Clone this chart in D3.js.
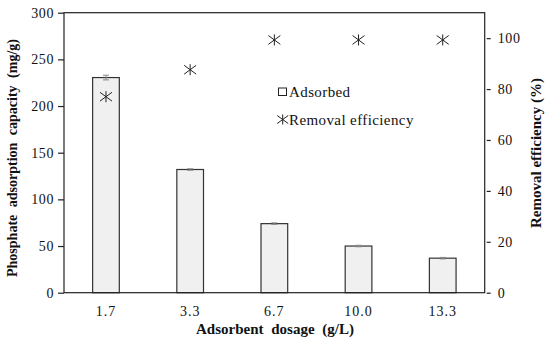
<!DOCTYPE html>
<html>
<head>
<meta charset="utf-8">
<script src="https://cdn.jsdelivr.net/npm/d3@7"></script>
<style>
  body { margin: 0; background: #fff; }
  text { font-family: "Liberation Serif", "Times New Roman", serif; fill: #111; }
</style>
</head>
<body>
<div id="chart"></div>
<script>
// data
var dosages = ["1.7", "3.3", "6.7", "10.0", "13.3"];
var adsorbed = [230.5, 132, 74, 50, 37];
var adsorbedErr = [2.5, 0.8, 0.8, 0.8, 0.8];
var efficiency = [77, 87.6, 99.3, 99.3, 99.3];
var leftTicks = [0, 50, 100, 150, 200, 250, 300];
var rightTicks = [0, 20, 40, 60, 80, 100];

var W = 550, H = 344;
var margin = {top: 12.7, right: 65.3, bottom: 51.3, left: 64};
var width = W - margin.left - margin.right;
var height = H - margin.top - margin.bottom;

var svg = d3.select("#chart").append("svg")
    .attr("width", W).attr("height", H);
var g = svg.append("g")
    .attr("transform", "translate(" + margin.left + "," + margin.top + ")");

var x = d3.scaleBand().domain(dosages).range([0, width]).paddingInner(0.683).paddingOuter(0.34);
var yL = d3.scaleLinear().domain([0, 300]).range([height, 0]);
var yR = d3.scaleLinear().domain([0, 110]).range([height, 0]);

// bars
g.selectAll("rect.bar")
  .data(adsorbed)
  .enter().append("rect")
    .attr("class", "bar")
    .attr("x", function(d, i) { return x(dosages[i]); })
    .attr("y", function(d) { return yL(d); })
    .attr("width", x.bandwidth())
    .attr("height", function(d) { return height - yL(d); })
    .attr("fill", "#f0f0f0")
    .attr("stroke", "#333")
    .attr("stroke-width", 1.2);

// error bars
g.selectAll("g.err")
  .data(adsorbed)
  .enter().append("g")
    .attr("class", "err")
    .each(function(d, i) {
      var cx = x(dosages[i]) + x.bandwidth() / 2;
      var e = adsorbedErr[i];
      var sel = d3.select(this);
      sel.append("line")
        .attr("x1", cx).attr("x2", cx)
        .attr("y1", yL(d - e)).attr("y2", yL(d + e))
        .attr("stroke", "#888").attr("stroke-width", 1);
      [d - e, d + e].forEach(function(v) {
        sel.append("line")
          .attr("x1", cx - 3).attr("x2", cx + 3)
          .attr("y1", yL(v)).attr("y2", yL(v))
          .attr("stroke", "#888").attr("stroke-width", 1);
      });
    });

// asterisk marker: vertical stroke plus a wide X
function star(sel, cx, cy, hw, hh) {
  sel.append("line")
    .attr("x1", cx).attr("y1", cy - hh)
    .attr("x2", cx).attr("y2", cy + hh)
    .attr("stroke", "#222").attr("stroke-width", 1);
  [[-1, -1], [-1, 1]].forEach(function(s) {
    sel.append("line")
      .attr("x1", cx + s[0] * hw).attr("y1", cy + s[1] * hh * 0.8)
      .attr("x2", cx - s[0] * hw).attr("y2", cy - s[1] * hh * 0.8)
      .attr("stroke", "#222").attr("stroke-width", 1);
  });
}

efficiency.forEach(function(v, i) {
  star(g, x(dosages[i]) + x.bandwidth() / 2, yR(v), 6, 5.5);
});

// frame
g.append("rect")
  .attr("x", 0).attr("y", 0)
  .attr("width", width).attr("height", height)
  .attr("fill", "none")
  .attr("stroke", "#222").attr("stroke-width", 1.2);

// left axis
var axL = g.append("g")
  .call(d3.axisLeft(yL).tickValues(leftTicks).tickSize(6).tickPadding(4));
axL.select(".domain").remove();
axL.selectAll("line").attr("stroke", "#222").attr("stroke-width", 1.2);
axL.selectAll("text").style("font-size", "14px").style("letter-spacing", "0.6px").attr("fill", "#111");

// right axis (ticks detached a little from the frame)
var axR = g.append("g")
  .attr("transform", "translate(" + (width + 2) + ",0)")
  .call(d3.axisRight(yR).tickValues(rightTicks).tickSize(4).tickPadding(7));
axR.select(".domain").remove();
axR.selectAll("line").attr("stroke", "#222").attr("stroke-width", 1.2);
axR.selectAll("text").style("font-size", "14px").style("letter-spacing", "0.6px").attr("fill", "#111");

// bottom axis
var axB = g.append("g")
  .attr("transform", "translate(0," + height + ")")
  .call(d3.axisBottom(x).tickSize(0).tickPadding(13));
axB.select(".domain").remove();
axB.selectAll("text").style("font-size", "14px").style("letter-spacing", "1px").attr("fill", "#111");

// axis titles
svg.append("text")
  .attr("transform", "translate(17,158) rotate(-90)")
  .attr("text-anchor", "middle")
  .style("font-size", "14px").style("font-weight", "bold")
  .style("word-spacing", "4px")
  .text("Phosphate adsorption capacity (mg/g)");

svg.append("text")
  .attr("transform", "translate(541,153) rotate(-90)")
  .attr("text-anchor", "middle")
  .style("font-size", "15px").style("font-weight", "bold")
  .text("Removal efficiency (%)");

svg.append("text")
  .attr("x", 275).attr("y", 334)
  .attr("text-anchor", "middle")
  .style("font-size", "15px").style("font-weight", "bold")
  .style("word-spacing", "4px")
  .text("Adsorbent dosage (g/L)");

// legend
var lg = svg.append("g");
lg.append("rect")
  .attr("x", 278.5).attr("y", 88)
  .attr("width", 8).attr("height", 7.5)
  .attr("fill", "#fff").attr("stroke", "#222").attr("stroke-width", 1);
lg.append("text")
  .attr("x", 289).attr("y", 96.5)
  .style("font-size", "15px").style("letter-spacing", "0.4px")
  .text("Adsorbed");
star(lg, 282.7, 119.5, 5.5, 5);
lg.append("text")
  .attr("x", 289).attr("y", 124.5)
  .style("font-size", "15px").style("letter-spacing", "0.4px")
  .text("Removal efficiency");
</script>
</body>
</html>
